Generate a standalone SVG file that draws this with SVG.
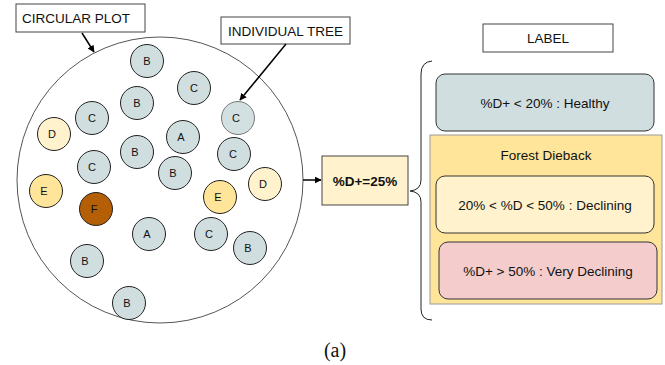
<svg xmlns="http://www.w3.org/2000/svg" width="665" height="365" viewBox="0 0 665 365">
<defs>
<marker id="ah" viewBox="0 0 10 10" refX="9" refY="5" markerWidth="7" markerHeight="7" markerUnits="userSpaceOnUse" orient="auto"><path d="M0,0 L10,5 L0,10 z" fill="#000"/></marker>
<style>
text{font-family:"Liberation Sans",Arial,sans-serif;fill:#111}
.lbl{font-size:13.5px}
.t{font-size:11px;text-anchor:middle;dominant-baseline:central}
.tree{stroke:#222;stroke-width:1}
.g{fill:#d0dee0}.d{fill:#fff2cc}.e{fill:#ffe599}.f{fill:#b45f06}
.box{fill:#fff;stroke:#444;stroke-width:1}
.c{text-anchor:middle;dominant-baseline:central}
</style>
</defs>
<rect width="665" height="365" fill="#fff"/>
<g id="plot"><circle cx="160" cy="180" r="143" fill="none" stroke="#555" stroke-width="1"/></g>
<g id="circular-plot-label"><rect class="box" x="16" y="4" width="129" height="28"/><text class="lbl" x="22" y="23">CIRCULAR PLOT</text></g>
<g id="individual-tree-label"><rect class="box" x="221" y="17" width="129" height="27"/><text class="lbl c" x="285.5" y="31">INDIVIDUAL TREE</text></g>
<g id="trees">
<g id="t1"><circle class="tree g" cx="147" cy="61" r="16.5"/><text class="t" x="147" y="61">B</text></g>
<g id="t2"><circle class="tree g" cx="194" cy="88" r="16.5"/><text class="t" x="194" y="88">C</text></g>
<g id="t3"><circle class="tree g" cx="137" cy="103" r="16.5"/><text class="t" x="137" y="103">B</text></g>
<g id="t4"><circle class="tree g" cx="92" cy="118" r="16.5"/><text class="t" x="92" y="118">C</text></g>
<g id="t5"><circle cx="238" cy="118" r="16.5" fill="#d3e0e2" stroke="#777"/><text class="t" x="236" y="118">C</text></g>
<g id="t6"><circle class="tree d" cx="54" cy="134" r="16.5"/><text class="t" x="52" y="134">D</text></g>
<g id="t7"><circle class="tree g" cx="183" cy="137" r="16.5"/><text class="t" x="181" y="137">A</text></g>
<g id="t8"><circle class="tree g" cx="137" cy="152" r="16.5"/><text class="t" x="135" y="152">B</text></g>
<g id="t9"><circle class="tree g" cx="234" cy="154" r="16.5"/><text class="t" x="233" y="154">C</text></g>
<g id="t10"><circle class="tree g" cx="94" cy="167" r="16.5"/><text class="t" x="92" y="167">C</text></g>
<g id="t11"><circle class="tree g" cx="175" cy="173" r="16.5"/><text class="t" x="173" y="173">B</text></g>
<g id="t12"><circle class="tree e" cx="46" cy="191" r="16.5"/><text class="t" x="44" y="191">E</text></g>
<g id="t13"><circle class="tree f" cx="96" cy="209" r="16.5"/><text class="t" x="94" y="209">F</text></g>
<g id="t14"><circle class="tree e" cx="220" cy="197" r="16.5"/><text class="t" x="218" y="197">E</text></g>
<g id="t15"><circle class="tree d" cx="265" cy="184" r="16.5"/><text class="t" x="263" y="184">D</text></g>
<g id="t16"><circle class="tree g" cx="149" cy="234" r="16.5"/><text class="t" x="147" y="234">A</text></g>
<g id="t17"><circle class="tree g" cx="211" cy="234" r="16.5"/><text class="t" x="209" y="234">C</text></g>
<g id="t18"><circle class="tree g" cx="250" cy="248" r="16.5"/><text class="t" x="248" y="248">B</text></g>
<g id="t19"><circle class="tree g" cx="87" cy="261" r="16.5"/><text class="t" x="85" y="261">B</text></g>
<g id="t20"><circle class="tree g" cx="129" cy="303" r="16.5"/><text class="t" x="127" y="303">B</text></g>
</g>
<g id="result"><rect x="322" y="156" width="86" height="49" fill="#fff2cc" stroke="#444"/><text class="lbl c" x="365" y="181" font-weight="bold">%D+=25%</text></g>
<g id="label-title"><rect class="box" x="483" y="24" width="130" height="28" stroke="#222"/><text class="lbl c" x="548" y="38">LABEL</text></g>
<g id="brace"><path d="M432,61 Q421,62 421,74 L421,180 Q421,190 410,191 Q421,192 421,202 L421,309 Q421,320 432,320" fill="none" stroke="#222" stroke-width="1"/></g>
<g id="healthy"><rect x="436" y="74" width="218" height="57" rx="9" fill="#d0dee0" stroke="#333"/><text class="lbl c" x="545" y="103">%D+ &lt; 20% : Healthy</text></g>
<g id="dieback"><rect x="430" y="135" width="232" height="169" fill="#ffe599" stroke="#999"/><text class="lbl c" x="546" y="155">Forest Dieback</text></g>
<g id="declining"><rect x="436" y="176" width="218" height="57" rx="9" fill="#fff2cc" stroke="#333"/><text class="lbl c" x="545" y="205">20% &lt; %D &lt; 50% : Declining</text></g>
<g id="very-declining"><rect x="439" y="242" width="218" height="57" rx="9" fill="#f4cccc" stroke="#333"/><text class="lbl c" x="548" y="271">%D+ &gt; 50% : Very Declining</text></g>
<g id="connectors" stroke="#000" stroke-width="1.5" fill="none">
<line x1="82" y1="33" x2="94" y2="52" marker-end="url(#ah)"/>
<line x1="286" y1="44" x2="240" y2="100" marker-end="url(#ah)"/>
<line x1="303" y1="180" x2="321" y2="180" marker-end="url(#ah)"/>
</g>
<text x="335" y="357" text-anchor="middle" style="font-family:'Liberation Serif','Times New Roman',serif;font-size:20px">(a)</text>
</svg>
